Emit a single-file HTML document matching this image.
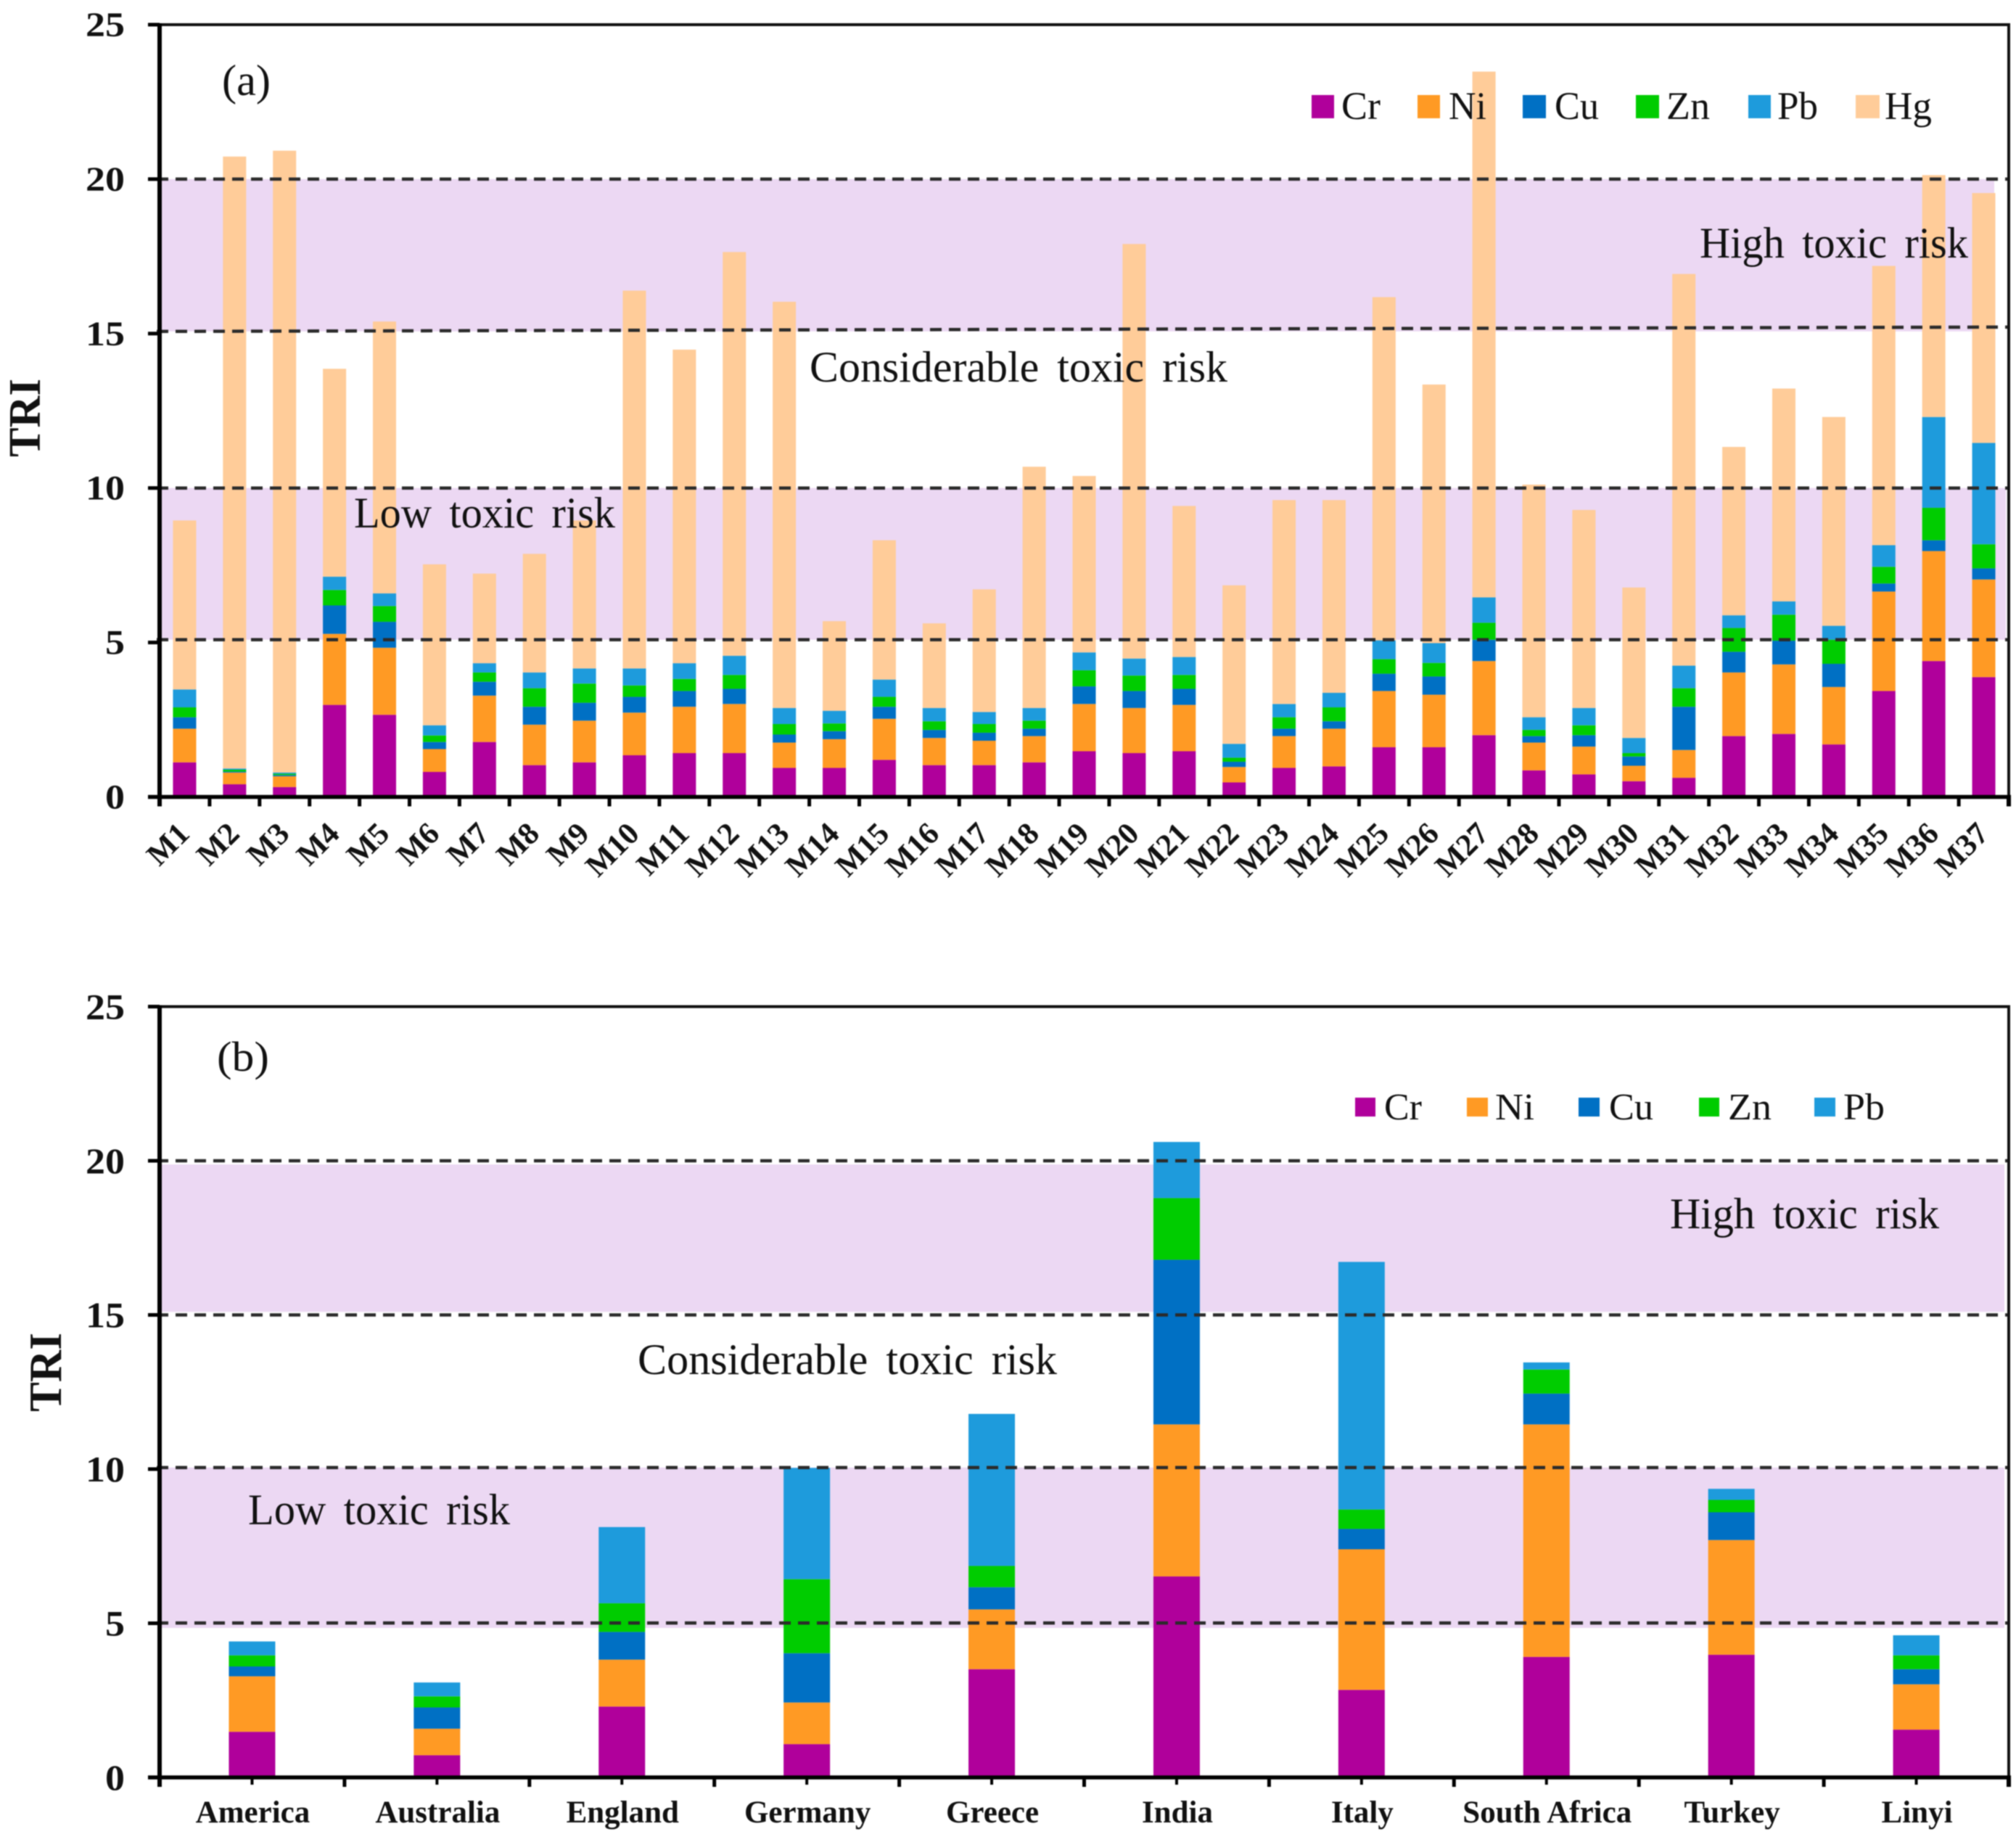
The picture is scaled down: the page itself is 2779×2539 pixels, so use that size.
<!DOCTYPE html>
<html lang="en">
<head>
<meta charset="utf-8">
<title>Toxic risk index (TRI) stacked bar charts</title>
<style>
html,body{margin:0;padding:0;background:#fff;width:2779px;height:2539px;overflow:hidden}
svg{display:block;filter:blur(0.8px)}
text{font-family:"Liberation Serif",serif;fill:#111}
.risk{word-spacing:10px}
</style>
</head>
<body>
<svg id="chart" xmlns="http://www.w3.org/2000/svg" width="2779" height="2539" viewBox="0 0 2779 2539">
<rect x="0" y="0" width="2779" height="2539" fill="#fff"/>
<g id="panelA"></g>
<g id="panelB"></g>
<g>
<text transform="translate(55,630) rotate(-90)" font-size="62" font-weight="bold" textLength="108" lengthAdjust="spacingAndGlyphs">TRI</text>
<text x="306" y="131" font-size="60" textLength="67" lengthAdjust="spacingAndGlyphs">(a)</text>
<text class="risk" x="488" y="727" font-size="60" textLength="360" lengthAdjust="spacingAndGlyphs">Low toxic risk</text>
<text class="risk" x="1116" y="526" font-size="60" textLength="576" lengthAdjust="spacingAndGlyphs">Considerable toxic risk</text>
<text class="risk" x="2343" y="355" font-size="60" textLength="370" lengthAdjust="spacingAndGlyphs">High toxic risk</text>
<g>
<rect x="1808" y="131" width="31" height="32" fill="#b0009b"/>
<text x="1849" y="164" font-size="54" textLength="54" lengthAdjust="spacingAndGlyphs">Cr</text>
<rect x="1954" y="131" width="31" height="32" fill="#ff9a24"/>
<text x="1997" y="164" font-size="54" textLength="52" lengthAdjust="spacingAndGlyphs">Ni</text>
<rect x="2099" y="131" width="32" height="32" fill="#0070c4"/>
<text x="2143" y="164" font-size="54" textLength="61" lengthAdjust="spacingAndGlyphs">Cu</text>
<rect x="2255" y="131" width="32" height="32" fill="#00cc00"/>
<text x="2297" y="164" font-size="54" textLength="60" lengthAdjust="spacingAndGlyphs">Zn</text>
<rect x="2410" y="131" width="31" height="32" fill="#1e9bdc"/>
<text x="2450" y="164" font-size="54" textLength="56" lengthAdjust="spacingAndGlyphs">Pb</text>
<rect x="2558" y="131" width="33" height="32" fill="#ffcc99"/>
<text x="2598" y="164" font-size="54" textLength="65" lengthAdjust="spacingAndGlyphs">Hg</text>
</g>
</g>
<g>
<text transform="translate(84,1946) rotate(-90)" font-size="64" font-weight="bold" textLength="109" lengthAdjust="spacingAndGlyphs">TRI</text>
<text x="299" y="1476" font-size="58" textLength="72" lengthAdjust="spacingAndGlyphs">(b)</text>
<text class="risk" x="342" y="2101" font-size="60" textLength="361" lengthAdjust="spacingAndGlyphs">Low toxic risk</text>
<text class="risk" x="879" y="1894" font-size="60" textLength="578" lengthAdjust="spacingAndGlyphs">Considerable toxic risk</text>
<text class="risk" x="2302" y="1693" font-size="60" textLength="371" lengthAdjust="spacingAndGlyphs">High toxic risk</text>
<g>
<rect x="1868" y="1513" width="28" height="26" fill="#b0009b"/>
<text x="1908" y="1543" font-size="52" textLength="52" lengthAdjust="spacingAndGlyphs">Cr</text>
<rect x="2022" y="1513" width="29" height="26" fill="#ff9a24"/>
<text x="2061" y="1543" font-size="52" textLength="54" lengthAdjust="spacingAndGlyphs">Ni</text>
<rect x="2176" y="1513" width="29" height="26" fill="#0070c4"/>
<text x="2218" y="1543" font-size="52" textLength="61" lengthAdjust="spacingAndGlyphs">Cu</text>
<rect x="2342" y="1513" width="28" height="26" fill="#00cc00"/>
<text x="2382" y="1543" font-size="52" textLength="60" lengthAdjust="spacingAndGlyphs">Zn</text>
<rect x="2501" y="1513" width="29" height="26" fill="#1e9bdc"/>
<text x="2541" y="1543" font-size="52" textLength="57" lengthAdjust="spacingAndGlyphs">Pb</text>
</g>
</g>
</svg>
<script>
/* ---------- data: panel (a) ---------- */
var sitesA = ["M1","M2","M3","M4","M5","M6","M7","M8","M9","M10","M11","M12","M13","M14","M15","M16","M17","M18","M19","M20","M21","M22","M23","M24","M25","M26","M27","M28","M29","M30","M31","M32","M33","M34","M35","M36","M37"];
var crA = [1.12,.41,.32,2.98,2.66,.81,1.78,1.03,1.12,1.35,1.42,1.42,.94,.94,1.20,1.03,1.03,1.12,1.48,1.42,1.48,.47,.94,.99,1.61,1.61,2.00,.86,.73,.51,.62,1.97,2.04,1.70,3.43,4.40,3.88];
var niA = [1.09,.38,.35,2.30,2.17,.74,1.50,1.31,1.35,1.38,1.50,1.59,.82,.93,1.33,.88,.79,.85,1.53,1.46,1.50,.50,1.03,1.22,1.82,1.70,2.40,.90,.90,.50,.90,2.06,2.25,1.86,3.22,3.56,3.16];
var cuA = [.37,.03,.04,.92,.84,.23,.45,.58,.58,.51,.51,.49,.26,.26,.39,.26,.26,.24,.57,.55,.52,.17,.24,.24,.56,.59,.69,.21,.37,.30,1.40,.67,.77,.75,.26,.35,.36];
var znA = [.32,.06,.04,.50,.51,.21,.30,.60,.62,.37,.39,.45,.34,.25,.32,.28,.28,.26,.52,.50,.45,.13,.37,.45,.47,.44,.55,.20,.32,.11,.60,.77,.84,.78,.54,1.05,.78];
var pbA = [.58,.04,.04,.43,.41,.33,.30,.51,.49,.55,.51,.62,.52,.41,.56,.43,.39,.41,.58,.55,.58,.45,.43,.47,.61,.64,.82,.41,.56,.49,.73,.41,.43,.45,.70,2.94,3.28];
var hgA = [5.47,19.81,20.13,6.73,8.80,5.21,2.90,3.84,4.79,12.23,10.15,13.07,13.15,2.90,4.51,2.74,3.97,7.81,5.71,13.42,4.89,5.13,6.60,6.24,11.11,8.37,17.02,7.53,6.41,4.87,12.68,5.45,6.89,6.76,9.04,7.83,8.09];

/* ---------- data: panel (b) ---------- */
var countriesB = ["America","Australia","England","Germany","Greece","India","Italy","South Africa","Turkey","Linyi"];
var crB = [1.48,.72,2.30,1.08,3.51,6.52,2.84,3.91,3.98,1.55];
var niB = [1.80,.86,1.52,1.35,1.94,4.93,4.56,7.54,3.72,1.47];
var cuB = [.32,.69,.90,1.60,.72,5.34,.66,1.00,.90,.49];
var znB = [.36,.36,.93,2.40,.69,2.00,.63,.78,.40,.45];
var pbB = [.45,.45,2.47,3.61,4.93,1.82,8.03,.23,.36,.65];

/* ---------- shared axis data ---------- */
var yTicks = [0,5,10,15,20,25];
var yTickLabels = ["0","5","10","15","20","25"];
var metalNames = ["Cr","Ni","Cu","Zn","Pb","Hg"];
var metalColors = ["#b0009b","#ff9a24","#0070c4","#00cc00","#1e9bdc","#ffcc99"];
var bandsA = [[5.09,10],[15.07,20]];
var bandsB = [[4.85,10.05],[15.1,19.88]];
var thresholdsA = [5.09,10,15.07,20];
var thresholdsB = [5.01,10.05,15,20];

var NS = "http://www.w3.org/2000/svg";
function make(tag, attrs, parent) {
  var el = document.createElementNS(NS, tag);
  for (var k in attrs) el.setAttribute(k, attrs[k]);
  parent.appendChild(el);
  return el;
}

function drawPanel(parent, key, categories, series, bands, bandRights, thresholds, box) {
  function yScale(v) { return box.y0 - v * (box.y0 - box.y25) / 25; }
  var step = (box.right - box.left) / categories.length;
  function xCenter(i) { return box.left + step * (i + 0.5); }

  bands.forEach(function (b, i) {
    var band = make("rect", {x: box.left, y: yScale(b[1]), width: bandRights[i] - box.left, height: yScale(b[0]) - yScale(b[1]), fill: "#ecd8f3"}, parent);
    
    
  });

  categories.forEach(function (cat, i) {
    var base = 0;
    series.forEach(function (vals, s) {
      var top = base + vals[i];
      var bar = make("rect", {x: xCenter(i) - box.barWidth / 2, y: yScale(top), width: box.barWidth, height: yScale(base) - yScale(top), fill: metalColors[s]}, parent);
      
      
      base = top;
    });
  });

  thresholds.forEach(function (t, i) {
    var tilt = i === 2 ? box.tilt15 : 0;
    var dash = make("line", {x1: box.left - 4, x2: box.right, y1: yScale(t), y2: yScale(t) + tilt, stroke: "#2b2b2b", "stroke-width": 4.5, "stroke-dasharray": "16 10"}, parent);
    
    
  });

  var frame = make("path", {d: "M" + box.left + " " + box.y25 + "H" + box.right + "V" + box.y0, fill: "none", stroke: "#111", "stroke-width": 4}, parent);
  
  

  var yAxis = make("line", {x1: box.left, x2: box.left, y1: box.y25 - 2, y2: box.y0 + 13, stroke: "#000", "stroke-width": 6}, parent);
  
  

  var xAxis = make("line", {x1: box.left - 16, x2: box.right + 3, y1: box.y0, y2: box.y0, stroke: "#000", "stroke-width": 5.5}, parent);
  
  

  yTicks.forEach(function (t, i) {
    var tick = make("line", {x1: box.left - 16, x2: box.left, y1: yScale(t), y2: yScale(t), stroke: "#000", "stroke-width": 5}, parent);
    
    
    var lab = make("text", {x: 172, y: yScale(t) + box.yLabelDy, "text-anchor": "end", "font-size": box.yFont, "font-weight": "bold", textLength: yTickLabels[i].length * 27, lengthAdjust: "spacingAndGlyphs"}, parent);
    lab.textContent = yTickLabels[i];
    
    
  });

  for (var j = 0; j <= categories.length; j++) {
    var tx = box.left + step * j;
    var mt = make("line", {x1: tx, x2: tx, y1: box.y0, y2: box.y0 + 13, stroke: "#000", "stroke-width": j === categories.length ? 6 : 5}, parent);
    
    
  }

  categories.forEach(function (cat, i) {
    var cx = xCenter(i);
    if (box.rotate) {
      var rot = make("text", {transform: "translate(" + (cx + 9) + "," + (box.y0 + 53) + ") rotate(-45)", "text-anchor": "end", "font-size": box.xFont, "font-weight": "bold"}, parent);
      rot.textContent = cat;
      
      
    } else {
      var minor = make("line", {x1: cx, x2: cx, y1: box.y0, y2: box.y0 + 10, stroke: "#000", "stroke-width": 4}, parent);
      
      
      var flat = make("text", {x: cx + 1, y: box.y0 + 62, "text-anchor": "middle", "font-size": box.xFont, "font-weight": "bold"}, parent);
      flat.textContent = cat;
      
      
    }
  });
}

drawPanel(document.getElementById("panelA"), "panel-a", sitesA, [crA, niA, cuA, znA, pbA, hgA], bandsA, [2765, 2749], thresholdsA,
  {left: 220, right: 2769, y0: 1098.5, y25: 34, barWidth: 32, yFont: 48, yLabelDy: 16, xFont: 43, rotate: true, tilt15: -6});
drawPanel(document.getElementById("panelB"), "panel-b", countriesB, [crB, niB, cuB, znB, pbB], bandsB, [2763, 2763], thresholdsB,
  {left: 220, right: 2769, y0: 2450, y25: 1387.5, barWidth: 64, yFont: 50, yLabelDy: 17, xFont: 43, rotate: false, tilt15: 0});
</script>
</body>
</html>
